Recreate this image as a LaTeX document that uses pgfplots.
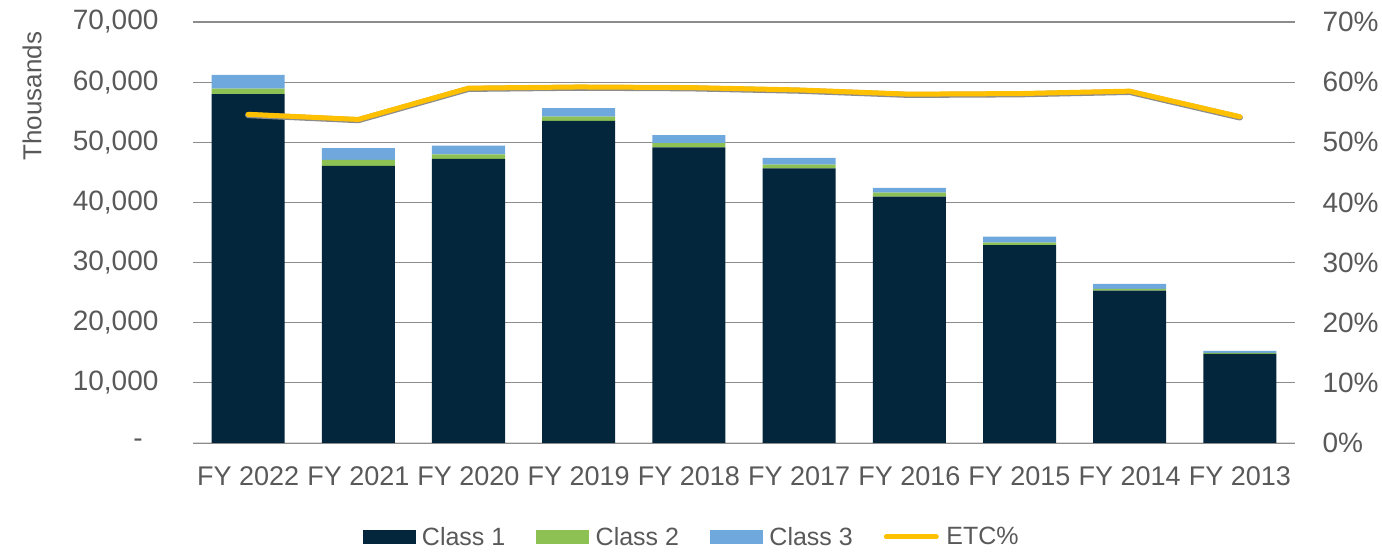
\documentclass[border=0pt]{standalone}
\usepackage{pgfplots}
\pgfplotsset{compat=1.18}
\usepackage{fontspec}
\setmainfont{Liberation Sans}
\definecolor{navy}{HTML}{03263D}
\definecolor{cgreen}{HTML}{8DC153}
\definecolor{cblue}{HTML}{6FA8DC}
\definecolor{cyellow}{HTML}{FFC000}
\definecolor{txt}{HTML}{595959}
\definecolor{grid}{HTML}{8C8C8C}
\newcommand{\fs}{\fontsize{25}{30}\selectfont}
\newcommand{\fx}{\fontsize{27}{32}\selectfont}
\newcommand{\fy}{\fontsize{28}{33}\selectfont}
\begin{document}
\begin{tikzpicture}[x=1pt,y=1pt]
\path[use as bounding box] (0,0) rectangle (1382,554);
\pgfplotsset{
  base/.style={
    scale only axis, width=1102pt, height=421pt,
    at={(193pt,111pt)}, anchor=south west,
    xmin=-0.5, xmax=9.5, ymin=0,
    major tick length=0pt,
    scaled y ticks=false,
    tick label style={font=\fx, text=txt},
    yticklabel style={font=\fy},
  }
}
\begin{axis}[base,
  ymax=70000,
  ybar stacked, bar width=73pt,
  axis x line*=bottom, axis y line*=left,
  x axis line style={draw=black!15, line width=1pt},
  y axis line style={draw=none},
  ymajorgrids, grid style={draw=grid, line width=1.2pt},
  ytick={0,10000,20000,30000,40000,50000,60000,70000},
  yticklabels={{\makebox[25pt][l]{-}},10{,}000,20{,}000,30{,}000,40{,}000,50{,}000,60{,}000,70{,}000},
  yticklabel style={xshift=-31pt},
  xtick={0,...,9},
  xticklabels={FY 2022,FY 2021,FY 2020,FY 2019,FY 2018,FY 2017,FY 2016,FY 2015,FY 2014,FY 2013},
  xticklabel style={yshift=-20pt},
  ylabel={Thousands}, ylabel style={font=\fontsize{26}{30}\selectfont, text=txt, at={(axis description cs:-0.146,0.824)}, anchor=center, rotate=0},
]
\addplot[fill=navy, draw=none] coordinates {(0,58000) (1,46060) (2,47230) (3,53550) (4,49170) (5,45680) (6,40960) (7,32920) (8,25330) (9,14800)};
\addplot[fill=cgreen, draw=none] coordinates {(0,930) (1,1000) (2,780) (3,720) (4,670) (5,600) (6,670) (7,380) (8,280) (9,200)};
\addplot[fill=cblue, draw=none] coordinates {(0,2280) (1,1950) (2,1430) (3,1400) (4,1330) (5,1110) (6,780) (7,1000) (8,830) (9,330)};
\end{axis}
\begin{axis}[base,
  ymax=70,
  axis x line=none, axis y line*=right,
  y axis line style={draw=none},
  ytick={0,10,20,30,40,50,60,70},
  yticklabels={0\%,10\%,20\%,30\%,40\%,50\%,60\%,70\%},
  yticklabel style={xshift=24pt},
  legend columns=4,
  legend style={draw=none, fill=none, at={(0.4515,-0.223)}, anchor=center, font=\fs, text=txt,
    nodes={inner xsep=0pt},
    /tikz/every even column/.append style={column sep=31pt}},
  legend cell align=left,
]
\addlegendimage{legend image code/.code={\fill[navy] (0pt,-6.5pt) rectangle (52pt,6.5pt); \path (59pt,0pt);}}
\addlegendentry{Class 1}
\addlegendimage{legend image code/.code={\fill[cgreen] (0pt,-6.5pt) rectangle (52pt,6.5pt); \path (59pt,0pt);}}
\addlegendentry{Class 2}
\addlegendimage{legend image code/.code={\fill[cblue] (0pt,-6.5pt) rectangle (52pt,6.5pt); \path (59pt,0pt);}}
\addlegendentry{Class 3}
\addplot[line width=6pt, color=black!45, forget plot, yshift=-0.8pt, line cap=round, line join=round] coordinates {(0,54.65) (1,53.8) (2,59.0) (3,59.2) (4,59.1) (5,58.7) (6,58.0) (7,58.1) (8,58.5) (9,54.25)};
\addplot[line width=5pt, color=cyellow, line cap=round, line join=round, legend image code/.code={\draw[cyellow, line width=5pt, line cap=round] (2.5pt,0pt) -- (52.5pt,0pt); \path (60pt,0pt);}] coordinates {(0,54.65) (1,53.8) (2,59.0) (3,59.2) (4,59.1) (5,58.7) (6,58.0) (7,58.1) (8,58.5) (9,54.25)};
\addlegendentry{ETC\%}
\end{axis}
\end{tikzpicture}
\end{document}
